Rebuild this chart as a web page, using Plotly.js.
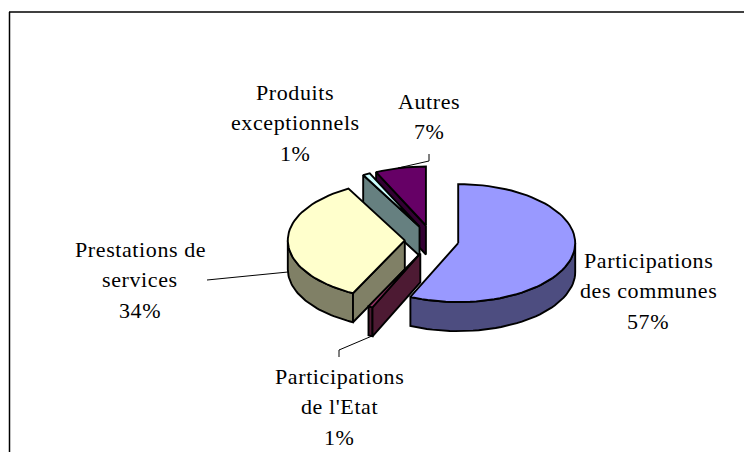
<!DOCTYPE html>
<html>
<head>
<meta charset="utf-8">
<script src="https://cdn.plot.ly/plotly-3.0.1.min.js"></script>
<style>
html,body{margin:0;padding:0;background:#fff;}
#chart{width:744px;height:452px;}
.annotation-text{letter-spacing:0.6px;}
</style>
</head>
<body>
<div id="chart"></div>
<script>
// Data
const categories = ["Participations des communes", "Participations de l'Etat", "Prestations de services", "Produits exceptionnels", "Autres"];
const shares = [56.7, 0.6, 34.7, 1, 7];
const topColors = ["#9999FF", "#993366", "#FFFFCC", "#CCFFFF", "#660066"];
const sideColors = ["#4D4D80", "#4D1A33", "#808066", "#668080", "#330033"];
const drawOrder = [4, 3, 2, 1, 0];

const labelLines = [
  ["Participations", "des communes", "57%"],
  ["Participations", "de l'Etat", "1%"],
  ["Prestations de", "services", "34%"],
  ["Produits", "exceptionnels", "1%"],
  ["Autres", "7%"]
];
const labelX = [648, 339.5, 140, 295, 429];
const labelY = [260, 376, 249, 92, 101];
const lineGap = 30.5;

const leaderX = [[], [339, 339, 372], [207, 288], [], [429, 429, 398]];
const leaderY = [[], [357, 350, 336], [280, 272], [], [154, 161, 168]];

// Pie projection
const cx = 431.8, cy = 240, rx = 117, ry = 59, depth = 29, explode = 27;
const rad = d => d * Math.PI / 180;
const px = (c, deg) => c + rx * Math.sin(rad(deg));
const py = (c, deg) => c - ry * Math.cos(rad(deg));

const total = shares.reduce((a, b) => a + b, 0);
let acc = 0;
const slices = shares.map((v) => {
  const a0 = acc / total * 360;
  acc += v;
  const a1 = acc / total * 360;
  const mid = (a0 + a1) / 2;
  return {
    a0, a1,
    ax: cx + explode * Math.sin(rad(mid)),
    ay: cy - explode * 0.55 * Math.cos(rad(mid))
  };
});

function poly(xs, ys, fill) {
  return {
    type: "scatter", mode: "lines", x: xs, y: ys, fill: "toself", fillcolor: fill,
    line: { color: "#000", width: 1.9 }, hoverinfo: "skip", showlegend: false
  };
}
function edgeFace(s, deg, fill) {
  const ox = px(s.ax, deg), oy = py(s.ay, deg);
  return poly([s.ax, ox, ox, s.ax, s.ax], [s.ay, oy, oy + depth, s.ay + depth, s.ay], fill);
}

const traces = [];
drawOrder.forEach(i => {
  const s = slices[i];
  // outer wall
  const from = Math.max(s.a0, 90), to = Math.min(s.a1, 270);
  if (to > from) {
    const xs = [], ys = [];
    for (let d = from; d <= to + 1e-6; d += (to - from) / 40) { xs.push(px(s.ax, d)); ys.push(py(s.ay, d)); }
    for (let d = to; d >= from - 1e-6; d -= (to - from) / 40) { xs.push(px(s.ax, d)); ys.push(py(s.ay, d) + depth); }
    xs.push(xs[0]); ys.push(ys[0]);
    traces.push(poly(xs, ys, sideColors[i]));
  }
  // cut faces
  if (Math.sin(rad(s.a0)) < -0.01) traces.push(edgeFace(s, s.a0, sideColors[i]));
  if (Math.sin(rad(s.a1)) > 0.01) traces.push(edgeFace(s, s.a1, sideColors[i]));
  // top
  const tx = [s.ax], ty = [s.ay];
  const n = Math.max(4, Math.round((s.a1 - s.a0) / 3));
  for (let k = 0; k <= n; k++) {
    const d = s.a0 + (s.a1 - s.a0) * k / n;
    tx.push(px(s.ax, d)); ty.push(py(s.ay, d));
  }
  tx.push(s.ax); ty.push(s.ay);
  traces.push(poly(tx, ty, topColors[i]));
});

leaderX.forEach((xs, i) => {
  if (xs.length) traces.push({
    type: "scatter", mode: "lines", x: xs, y: leaderY[i],
    line: { color: "#000", width: 1 }, hoverinfo: "skip", showlegend: false
  });
});

const annotations = [];
labelLines.forEach((lines, i) => {
  lines.forEach((t, j) => annotations.push({
    x: labelX[i], y: labelY[i] + j * lineGap, xref: "x", yref: "y",
    text: t, showarrow: false, xanchor: "center", yanchor: "middle",
    font: { family: "Liberation Serif", size: 22, color: "#000" }
  }));
});

const layout = {
  width: 744, height: 452,
  margin: { l: 0, r: 0, t: 0, b: 0 },
  paper_bgcolor: "#fff", plot_bgcolor: "#fff",
  showlegend: false, hovermode: false,
  xaxis: { range: [0, 744], visible: false, fixedrange: true },
  yaxis: { range: [452, 0], visible: false, fixedrange: true },
  annotations,
  shapes: [
    { type: "line", xref: "x", yref: "y", x0: 9, y0: 12, x1: 744, y1: 12, line: { color: "#000", width: 1.5 } },
    { type: "line", xref: "x", yref: "y", x0: 9.5, y0: 12, x1: 9.5, y1: 452, line: { color: "#000", width: 1.5 } }
  ]
};
Plotly.newPlot("chart", traces, layout, { displayModeBar: false, staticPlot: true });
</script>
</body>
</html>
